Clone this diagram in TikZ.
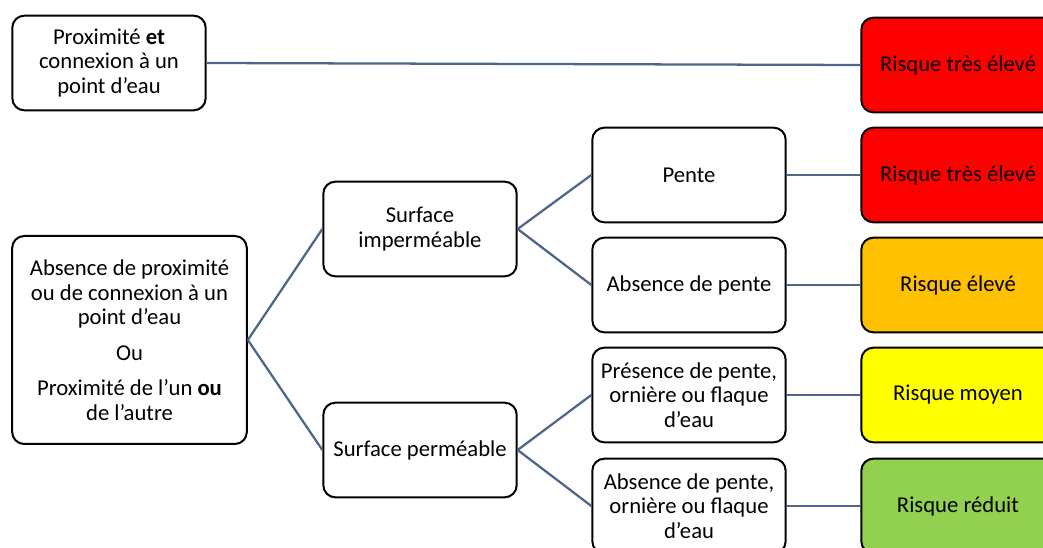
\documentclass[tikz,border=0pt]{standalone}
\usepackage{fontspec}
\setmainfont{Carlito}
\usepackage{xcolor}
\usepackage{tikz}

\definecolor{linkblue}{RGB}{79,101,140}
\definecolor{riskred}{RGB}{255,0,0}
\definecolor{riskorange}{RGB}{255,192,0}
\definecolor{riskyellow}{RGB}{255,255,0}
\definecolor{riskgreen}{RGB}{146,208,80}

\tikzset{
  box/.style={draw, line width=1.5pt, rounded corners=9pt, align=center,
    inner sep=2pt, minimum width=145pt, minimum height=71pt,
    font=\fontsize{17}{18.5}\selectfont},
  riskbox/.style={box, fill=#1},
  link/.style={draw=linkblue, line width=1.7pt}
}

\begin{document}
\begin{tikzpicture}[x=0.75pt,y=-0.75pt]
    \useasboundingbox (0,0) rectangle (1043,548);
    \clip (0,0) rectangle (1043,548);
    %
    \node[box] (prox) at (109,63) {Proximit\'e \textbf{et}\\connexion \`a un\\point d’eau};
    \node[box, minimum width=176pt, minimum height=156pt] (absprox) at (129.5,340)
      {Absence de proximit\'e\\ou de connexion \`a un\\point d’eau\\[8pt]Ou\\[8pt]Proximit\'e de l’un \textbf{ou}\\de l’autre};
    %
    \node[box] (imper) at (420,229) {Surface\\imperm\'eable};
    \node[box] (perm) at (420,450) {Surface perm\'eable};
    %
    \node[box] (pente) at (689,175) {Pente};
    \node[box] (sanspente) at (689,285) {Absence de pente};
    \node[box] (ornpres) at (689,395) {Pr\'esence de pente,\\orni\`ere ou flaque\\d’eau};
    \node[box] (ornabs) at (689,506) {Absence de pente,\\orni\`ere ou flaque\\d’eau};
    %
    \node[riskbox=riskred] (r1) at (958,65) {Risque tr\`es \'elev\'e};
    \node[riskbox=riskred] (r2) at (958,175) {Risque tr\`es \'elev\'e};
    \node[riskbox=riskorange] (r3) at (958,285) {Risque \'elev\'e};
    \node[riskbox=riskyellow] (r4) at (958,395) {Risque moyen};
    \node[riskbox=riskgreen] (r5) at (958,506) {Risque r\'eduit};
    %
    \draw[link] (prox.east) -- (r1.west);
    \draw[link] (absprox.east) -- (imper.west);
    \draw[link] (absprox.east) -- (perm.west);
    \draw[link] (imper.east) -- (pente.west);
    \draw[link] (imper.east) -- (sanspente.west);
    \draw[link] (perm.east) -- (ornpres.west);
    \draw[link] (perm.east) -- (ornabs.west);
    \draw[link] (pente.east) -- (r2.west);
    \draw[link] (sanspente.east) -- (r3.west);
    \draw[link] (ornpres.east) -- (r4.west);
    \draw[link] (ornabs.east) -- (r5.west);
\end{tikzpicture}
\end{document}
